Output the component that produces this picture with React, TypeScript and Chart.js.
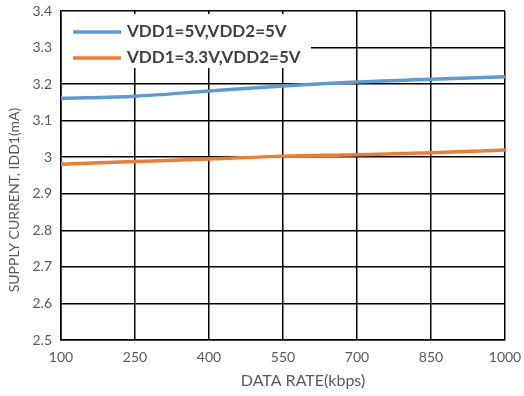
import React, { useEffect, useRef } from "react";
import { Chart, registerables } from "chart.js";

Chart.register(...registerables);

const dataRates = [100, 250, 400, 550, 700, 850, 1000];
const seriesNames = ["VDD1=5V,VDD2=5V", "VDD1=3.3V,VDD2=5V"];
const vdd5Values = [3.161, 3.167, 3.181, 3.195, 3.206, 3.213, 3.22];
const vdd33Values = [2.981, 2.988, 2.995, 3.003, 3.007, 3.012, 3.02];
const seriesColors = ["#5B9BD5", "#ED7D31"];
const xTitle = "DATA RATE(kbps)";
const yTitle = "SUPPLY CURRENT, IDD1(mA)";

const FONT = "Lato, 'Open Sans', sans-serif";

const legendPlugin = {
  id: "insideLegend",
  afterDatasetsDraw(chart: any) {
    const { ctx, chartArea } = chart;
    const x0 = chartArea.left + 1;
    const y0 = chartArea.top + 3;
    ctx.save();
    ctx.fillStyle = "#ffffff";
    ctx.fillRect(x0, y0, 249, 54);
    chart.data.datasets.forEach((ds: any, i: number) => {
      const y = y0 + 18 + i * 26;
      ctx.strokeStyle = ds.borderColor;
      ctx.lineWidth = 3.5;
      ctx.beginPath();
      ctx.moveTo(x0 + 11, y);
      ctx.lineTo(x0 + 59, y);
      ctx.stroke();
      ctx.fillStyle = "#404040";
      ctx.font = `bold 17px ${FONT}`;
      ctx.textBaseline = "middle";
      ctx.fillText(ds.label, x0 + 65, y);
    });
    ctx.restore();
  },
};

const titlesPlugin = {
  id: "axisTitles",
  afterDraw(chart: any) {
    const { ctx, chartArea } = chart;
    ctx.save();
    ctx.fillStyle = "#595959";
    ctx.textAlign = "center";
    ctx.textBaseline = "middle";
    ctx.font = `16px ${FONT}`;
    ctx.fillText(xTitle, chartArea.left + 242, 381);
    ctx.translate(14, 200);
    ctx.rotate(-Math.PI / 2);
    ctx.font = `14px ${FONT}`;
    ctx.fillText(yTitle, 0, 0);
    ctx.restore();
  },
};

export default function App() {
  const ref = useRef<HTMLCanvasElement>(null);
  useEffect(() => {
    document.body.style.margin = "0";
    const chart = new Chart(ref.current!, {
      type: "line",
      data: {
        datasets: [
          {
            label: seriesNames[0],
            data: dataRates.map((x, i) => ({ x, y: vdd5Values[i] })),
            borderColor: seriesColors[0],
            borderWidth: 3.5,
            pointRadius: 0,
            cubicInterpolationMode: "monotone",
          },
          {
            label: seriesNames[1],
            data: dataRates.map((x, i) => ({ x, y: vdd33Values[i] })),
            borderColor: seriesColors[1],
            borderWidth: 3.5,
            pointRadius: 0,
            cubicInterpolationMode: "monotone",
          },
        ],
      },
      options: {
        animation: false,
        responsive: false,
        layout: { padding: { top: 11, right: 19, left: 0, bottom: 0 } },
        plugins: { legend: { display: false }, tooltip: { enabled: false } },
        scales: {
          x: {
            type: "linear",
            min: 100,
            max: 1000,
            afterBuildTicks: (axis: any) => {
              axis.ticks = dataRates.map((v) => ({ value: v }));
            },
            afterFit: (axis: any) => {
              axis.height = 56;
              axis.paddingLeft = 0;
              axis.paddingRight = 0;
            },
            grid: { color: "#000000", lineWidth: 1.5, drawTicks: false },
            border: { color: "#000000", width: 1.5 },
            ticks: {
              color: "#595959",
              font: { family: FONT, size: 14 },
              padding: 9,
              maxRotation: 0,
              callback: (v: any) => String(v),
            },
          },
          y: {
            min: 2.5,
            max: 3.4,
            afterFit: (axis: any) => {
              axis.width = 61;
              axis.paddingTop = 0;
              axis.paddingBottom = 0;
            },
            grid: { color: "#000000", lineWidth: 1.5, drawTicks: false },
            border: { color: "#000000", width: 1.5 },
            ticks: {
              stepSize: 0.1,
              color: "#595959",
              font: { family: FONT, size: 14 },
              padding: 9,
              callback: (v: any) => String(Math.round(Number(v) * 10) / 10),
            },
          },
        },
      },
      plugins: [legendPlugin, titlesPlugin],
    } as any);
    return () => chart.destroy();
  }, []);
  return (
    <div style={{ position: "absolute", left: 0, top: 0, width: 524, height: 396 }}>
      <canvas ref={ref} width={524} height={396} />
    </div>
  );
}
